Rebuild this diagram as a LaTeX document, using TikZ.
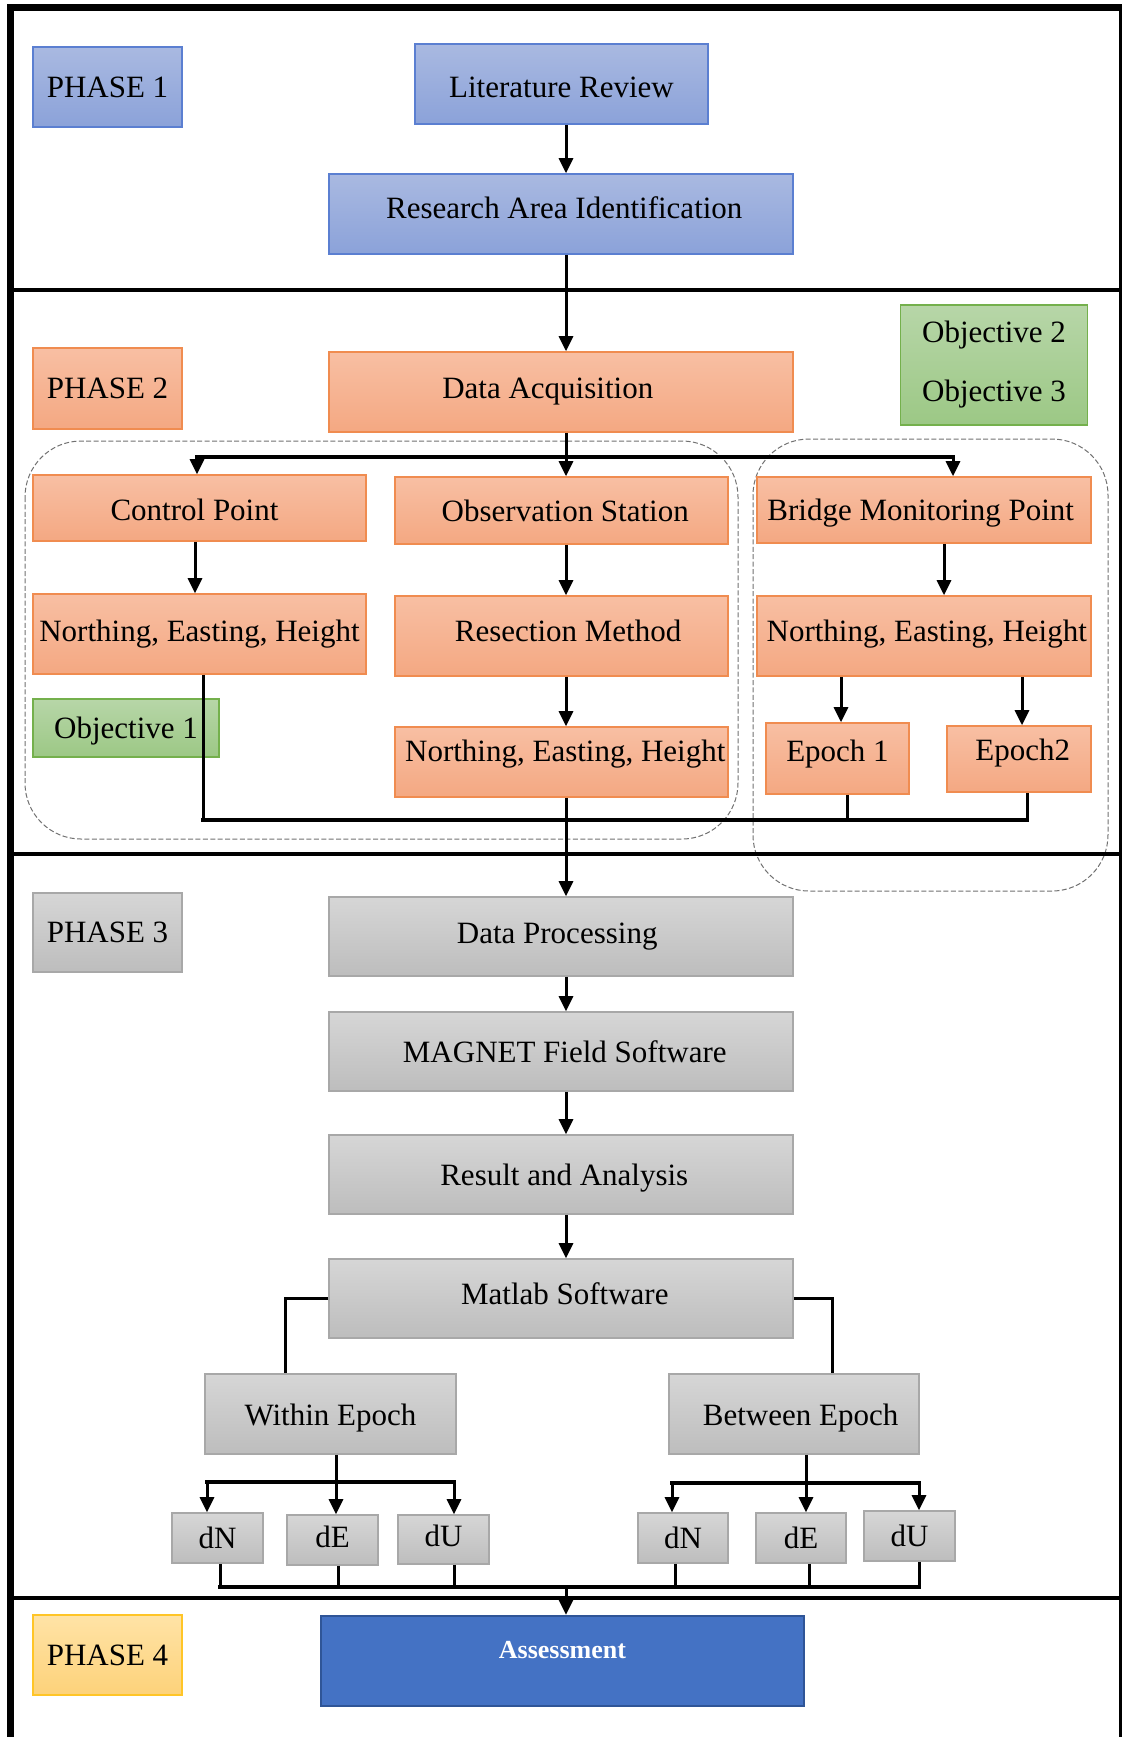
\documentclass[tikz,border=0pt]{standalone}
\usepackage{fontspec}
\setmainfont{Liberation Serif}
\usetikzlibrary{arrows.meta}
\definecolor{bluet}{HTML}{A9B9E1}
\definecolor{blueb}{HTML}{8BA2D9}
\definecolor{bluebd}{HTML}{5B7FD1}
\definecolor{orgt}{HTML}{F8BFA3}
\definecolor{orgb}{HTML}{F4A882}
\definecolor{orgbd}{HTML}{F08C50}
\definecolor{grnt}{HTML}{B7D6A8}
\definecolor{grnb}{HTML}{9CC885}
\definecolor{grnbd}{HTML}{74B04C}
\definecolor{gryt}{HTML}{D6D6D6}
\definecolor{gryb}{HTML}{BDBDBD}
\definecolor{grybd}{HTML}{A8A8A8}
\definecolor{ylwt}{HTML}{FFE3A6}
\definecolor{ylwb}{HTML}{FDD27A}
\definecolor{ylwbd}{HTML}{FFC527}
\definecolor{asfill}{HTML}{4472C4}
\definecolor{asbd}{HTML}{2F5597}
\definecolor{dashc}{HTML}{707070}
\newcommand\tsh[3]{\raisebox{#2}[\height][\depth]{\kern#1#3\kern-#1}}
\tikzset{
  basebox/.style={line width=0.8pt, inner sep=0pt, font=\fontsize{15.5pt}{18pt}\selectfont},
  bluebox/.style={basebox, draw=bluebd, top color=bluet, bottom color=blueb},
  orgbox/.style={basebox, draw=orgbd, top color=orgt, bottom color=orgb},
  grnbox/.style={basebox, draw=grnbd, top color=grnt, bottom color=grnb},
  grybox/.style={basebox, draw=grybd, top color=gryt, bottom color=gryb},
  ylwbox/.style={basebox, draw=ylwbd, top color=ylwt, bottom color=ylwb},
  conn/.style={line width=1.5pt},
  arr/.style={conn, -{Triangle[length=7.5pt,width=7pt]}},
  hline/.style={line width=2pt, line cap=rect},
  grp/.style={draw=dashc, line width=0.5pt, dash pattern=on 2.5pt off 1.2pt, rounded corners=28pt},
  sep/.style={line width=1.75pt}
}
\begin{document}
\begin{tikzpicture}[x=0.5pt,y=-0.5pt]
\useasboundingbox (0,0) rectangle (1122,1737);

% dashed groups
\draw[grp] (25,441) rectangle (738,839);
\draw[grp] (753,439) rectangle (1108,891);

% frame and separators
\draw[line width=3.5pt] (10.5,1737) -- (10.5,7.5) -- (1122,7.5);
\draw[line width=1.5pt] (1120.5,7.5) -- (1120.5,1737);
\draw[sep] (10.5,290) -- (1120.5,290);
\draw[sep] (10.5,854) -- (1120.5,854);
\draw[sep] (10.5,1598) -- (1120.5,1598);

% Phase 1
\node[bluebox, minimum width=74.5pt, minimum height=40pt] (ph1) at (107.5,87) {PHASE 1};
\node[bluebox, minimum width=146.5pt, minimum height=40pt] (lit) at (561.5,84) {\tsh{0pt}{-1.75pt}{Literature Review}};
\node[bluebox, minimum width=232pt, minimum height=40pt] (rai) at (561,214) {\tsh{1.65pt}{3pt}{Research Area Identification}};

% Phase 2
\node[orgbox, minimum width=74.5pt, minimum height=40.5pt] (ph2) at (107.5,388.5) {PHASE 2};
\node[orgbox, minimum width=232pt, minimum height=40pt] (da) at (561,392) {\tsh{-6.6pt}{0pt}{Data Acquisition}};
\node[grnbox, minimum width=93.5pt, minimum height=60pt, align=center, font=\fontsize{15.5pt}{29.5pt}\selectfont] (obj23) at (994,365) {Objective 2\\Objective 3};
\node[orgbox, minimum width=166.5pt, minimum height=33pt] (cp) at (199.5,508) {\tsh{-2.5pt}{-1.1pt}{Control Point}};
\node[orgbox, minimum width=166.5pt, minimum height=33.5pt] (obs) at (561.5,510.5) {\tsh{1.9pt}{0pt}{Observation Station}};
\node[orgbox, minimum width=167pt, minimum height=33pt] (bmp) at (924,510) {\tsh{-1.65pt}{-1.65pt}{Bridge Monitoring Point}};
\node[orgbox, minimum width=166.5pt, minimum height=40pt] (neh1) at (199.5,634) {Northing, Easting, Height};
\node[orgbox, minimum width=166.5pt, minimum height=40pt] (res) at (561.5,636) {\tsh{3.3pt}{2.75pt}{Resection Method}};
\node[orgbox, minimum width=167pt, minimum height=40pt] (neh3) at (924,636) {\tsh{1.4pt}{1.1pt}{Northing, Easting, Height}};
\node[grnbox, minimum width=93pt, minimum height=29pt] (obj1) at (126,728) {\tsh{0pt}{-1.65pt}{Objective 1}};
\node[orgbox, minimum width=166.5pt, minimum height=35pt] (neh2) at (561.5,762) {\tsh{1.9pt}{3.9pt}{Northing, Easting, Height}};
\node[orgbox, minimum width=71.5pt, minimum height=35.5pt] (ep1) at (837.5,758.5) {\tsh{0pt}{2.2pt}{Epoch 1}};
\node[orgbox, minimum width=72pt, minimum height=33pt] (ep2) at (1019,759) {\tsh{1.9pt}{2.75pt}{Epoch2}};

% Phase 3
\node[grybox, minimum width=74.5pt, minimum height=39.5pt] (ph3) at (107.5,932.5) {PHASE 3};
\node[grybox, minimum width=232pt, minimum height=39.5pt] (dp) at (561,936.5) {\tsh{-1.9pt}{0pt}{Data Processing}};
\node[grybox, minimum width=232pt, minimum height=39.5pt] (mag) at (561,1051.5) {\tsh{1.9pt}{0pt}{MAGNET Field Software}};
\node[grybox, minimum width=232pt, minimum height=39.5pt] (ra) at (561,1174.5) {\tsh{1.65pt}{-1.65pt}{Result and Analysis}};
\node[grybox, minimum width=232pt, minimum height=39.5pt] (mat) at (561,1298.5) {\tsh{1.9pt}{2.2pt}{Matlab Software}};
\node[grybox, minimum width=125.5pt, minimum height=40pt] (we) at (330.5,1414) {\tsh{0pt}{-2.2pt}{Within Epoch}};
\node[grybox, minimum width=125pt, minimum height=40pt] (be) at (794,1414) {\tsh{3.3pt}{-2.2pt}{Between Epoch}};
\node[grybox, minimum width=45.5pt, minimum height=25pt] (dn1) at (217.5,1538) {dN};
\node[grybox, minimum width=45.5pt, minimum height=25pt] (de1) at (332.5,1540) {\tsh{0pt}{1.65pt}{dE}};
\node[grybox, minimum width=45.5pt, minimum height=24.5pt] (du1) at (443.5,1539.5) {\tsh{0pt}{1.65pt}{dU}};
\node[grybox, minimum width=45pt, minimum height=25pt] (dn2) at (683,1538) {dN};
\node[grybox, minimum width=45pt, minimum height=25pt] (de2) at (801,1538) {dE};
\node[grybox, minimum width=45.5pt, minimum height=25pt] (du2) at (909.5,1536) {dU};

% Phase 4
\node[ylwbox, minimum width=74.5pt, minimum height=40pt] (ph4) at (107.5,1655) {PHASE 4};
\node[draw=asbd, line width=1.2pt, fill=asfill, text=white, inner sep=0pt, minimum width=241.5pt, minimum height=45pt, text height=9pt, text depth=11.5pt, font=\fontsize{13pt}{15pt}\selectfont\bfseries] (as) at (562.5,1661) {Assessment};

% column coordinates
\coordinate (X) at (566,0);
\coordinate (bL) at (197,457);
\coordinate (bR) at (953,457);
\coordinate (cL) at (203,820);
\coordinate (cR) at (1027,820);
\coordinate (c1) at (847,820);
\coordinate (wT) at (336,1482);
\coordinate (wL) at (207,1482);
\coordinate (wR) at (454,1482);
\coordinate (bT) at (806,1483);
\coordinate (bbL) at (672,1483);
\coordinate (bbR) at (919,1483);
\coordinate (aL) at (220,1587);
\coordinate (aR) at (919,1587);
\coordinate (aM) at (566,1587);

% connectors phase 1-2
\draw[arr] (lit.south -| X) -- (rai.north -| X);
\draw[arr] (rai.south -| X) -- (da.north -| X);
\draw[arr] (da.south -| X) -- (obs.north -| X);
\draw[hline] (bL) -- (bR);
\draw[arr] (bL) -- (bL |- cp.north);
\draw[arr] (bR) -- (bR |- bmp.north);
\draw[arr] (cp.south -| 195,0) -- (neh1.north -| 195,0);
\draw[arr] (obs.south -| X) -- (res.north -| X);
\draw[arr] (res.south -| X) -- (neh2.north -| X);
\draw[arr] (bmp.south -| 944,0) -- (neh3.north -| 944,0);
\draw[arr] (neh3.south -| 841,0) -- (ep1.north -| 841,0);
\draw[arr] (neh3.south -| 1022,0) -- (ep2.north -| 1022,0);
\draw[conn] (neh1.south -| cL) -- (cL);
\draw[hline] (cL) -- (cR);
\draw[conn] (ep2.south -| cR) -- (cR);
\draw[conn] (ep1.south -| c1) -- (c1);
\draw[arr] (neh2.south -| X) -- (dp.north -| X);

% phase 3
\draw[arr] (dp.south -| X) -- (mag.north -| X);
\draw[arr] (mag.south -| X) -- (ra.north -| X);
\draw[arr] (ra.south -| X) -- (mat.north -| X);
\draw[conn] (mat.west) -| (we.north -| 285,0);
\draw[conn] (mat.east) -| (be.north -| 832,0);
\draw[conn] (we.south -| wT) -- (wT);
\draw[hline] (wL) -- (wR);
\draw[arr] (wL) -- (wL |- dn1.north);
\draw[arr] (wT) -- (wT |- de1.north);
\draw[arr] (wR) -- (wR |- du1.north);
\draw[conn] (be.south -| bT) -- (bT);
\draw[hline] (bbL) -- (bbR);
\draw[arr] (bbL) -- (bbL |- dn2.north);
\draw[arr] (bT) -- (bT |- de2.north);
\draw[arr] (bbR) -- (bbR |- du2.north);
\draw[conn] (dn1.south -| 220,0) -- (220,1587);
\draw[conn] (de1.south -| 338,0) -- (338,1587);
\draw[conn] (du1.south -| 454,0) -- (454,1587);
\draw[conn] (dn2.south -| 675,0) -- (675,1587);
\draw[conn] (de2.south -| 809,0) -- (809,1587);
\draw[conn] (du2.south -| 919,0) -- (919,1587);
\draw[hline] (aL) -- (aR);
\draw[arr] (aM) -- (as.north -| aM);
\end{tikzpicture}
\end{document}
